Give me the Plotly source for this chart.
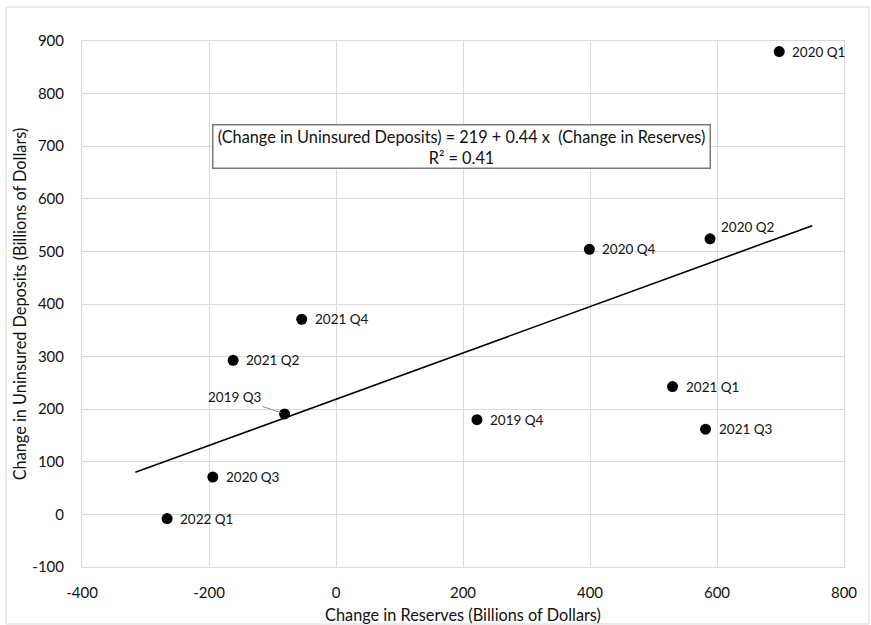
import plotly.graph_objects as go

# ---- data ----
quarters = ["2019 Q3", "2019 Q4", "2020 Q1", "2020 Q2", "2020 Q3", "2020 Q4",
            "2021 Q1", "2021 Q2", "2021 Q3", "2021 Q4", "2022 Q1"]
reserves_change = [-81, 222, 698, 589, -194, 399, 530, -162, 582, -54, -266]
uninsured_change = [191, 180, 880, 524, 71, 504, 243, 293, 162, 371, -8]

fit_intercept = 219
fit_slope = 0.44
fit_r2 = 0.41
fit_x_range = [-316, 750]

x_ticks = [-400, -200, 0, 200, 400, 600, 800]
y_ticks = [-100, 0, 100, 200, 300, 400, 500, 600, 700, 800, 900]

FONT = "Lato"
GRID = "#d9d9d9"
TXT = "#111111"

fig = go.Figure()

# regression line
fit_y = [fit_intercept + fit_slope * v for v in fit_x_range]
fig.add_trace(go.Scatter(x=fit_x_range, y=fit_y, mode="lines",
                         line=dict(color="black", width=1.6),
                         showlegend=False, hoverinfo="skip"))

fig.add_trace(go.Scatter(x=reserves_change, y=uninsured_change, mode="markers",
                         marker=dict(color="black", size=11),
                         showlegend=False))

# point labels
for q, xv, yv in zip(quarters, reserves_change, uninsured_change):
    if q == "2019 Q3":
        fig.add_annotation(x=xv, y=yv, xref="x", yref="y", text=q, showarrow=True,
                           arrowhead=0, arrowwidth=1, arrowcolor="#8c8c8c",
                           ax=-50, ay=-17, standoff=4,
                           font=dict(family=FONT, size=13.5, color=TXT))
    else:
        dx, dy = (9, 12) if q == "2020 Q2" else (11, 0)
        fig.add_annotation(x=xv, y=yv, xref="x", yref="y", text=q, showarrow=False,
                           xanchor="left", yanchor="middle", xshift=dx, yshift=dy,
                           font=dict(family=FONT, size=13.5, color=TXT))

# equation box
fig.add_annotation(x=198, y=700, xref="x", yref="y",
                   text=f"(Change in Uninsured Deposits) = {fit_intercept} + {fit_slope} x  (Change in Reserves)<br>R² = {fit_r2}",
                   showarrow=False, align="center",
                   font=dict(family=FONT, size=16.3, color=TXT),
                   bordercolor="#7a7a7a", borderwidth=1.5, borderpad=1,
                   bgcolor="white", width=494)

# outer chart border
fig.add_shape(type="rect", xref="paper", yref="paper",
              x0=(6 - 82) / 762, x1=(869 - 82) / 762,
              y0=(567 - 624) / 526, y1=(567 - 7) / 526,
              line=dict(color=GRID, width=1), layer="below")

fig.update_xaxes(range=[-400, 800], tickvals=x_ticks, ticktext=[str(v) for v in x_ticks],
                 showgrid=True, gridcolor=GRID,
                 gridwidth=1, zeroline=False, showline=True, linecolor=GRID, mirror=True,
                 ticks="", ticklabelstandoff=12,
                 tickfont=dict(family=FONT, size=15, color=TXT),
                 title=dict(text="Change in Reserves (Billions of Dollars)",
                            font=dict(family=FONT, size=16.3, color=TXT),
                            standoff=9))
fig.update_yaxes(range=[-100, 900], tickvals=y_ticks, ticktext=[str(v) for v in y_ticks],
                 showgrid=True, gridcolor=GRID,
                 gridwidth=1, zeroline=False, showline=True, linecolor=GRID, mirror=True,
                 ticks="", ticklabelstandoff=14,
                 tickfont=dict(family=FONT, size=15, color=TXT),
                 title=dict(text="Change in Uninsured Deposits (Billions of Dollars)",
                            font=dict(family=FONT, size=16.3, color=TXT),
                            standoff=1))

fig.update_layout(width=871, height=625,
                  margin=dict(l=82, r=27, t=41, b=58, autoexpand=False),
                  plot_bgcolor="white", paper_bgcolor="white",
                  font=dict(family=FONT))

fig.write_html("out.html")
